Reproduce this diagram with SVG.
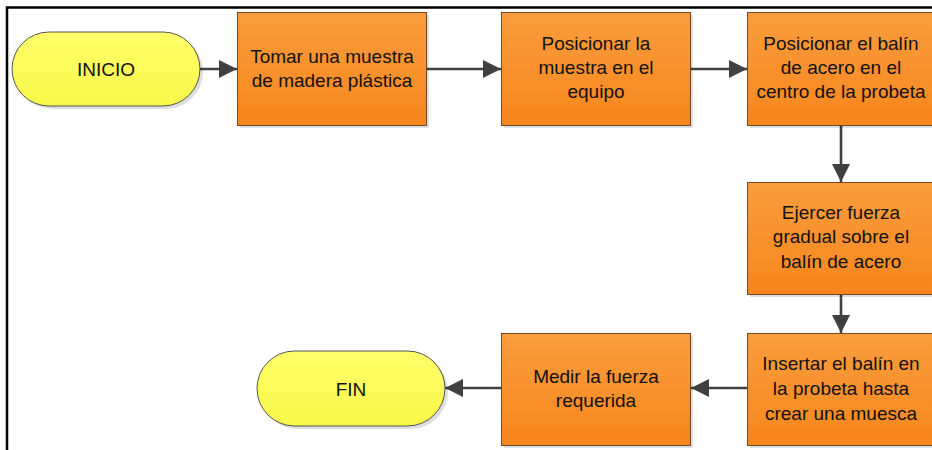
<svg xmlns="http://www.w3.org/2000/svg" width="932" height="450" viewBox="0 0 932 450">
<style>
.box{fill:url(#og);stroke:#6e4a26;stroke-width:1}
.term{fill:url(#yg);stroke:#555;stroke-width:1}
.sh{fill:#000;opacity:0.13}
.t{font-family:"Liberation Sans",Arial,sans-serif;font-size:19px;fill:#111;text-anchor:middle}
.c{stroke:#404040;stroke-width:2.6;fill:none;marker-end:url(#ah)}
.frame{stroke:#000;stroke-width:2.5;fill:none}
</style>
<defs>
<linearGradient id="og" x1="0" y1="0" x2="0" y2="1">
<stop offset="0" stop-color="#F99D3E"/>
<stop offset="1" stop-color="#F7861C"/>
</linearGradient>
<linearGradient id="yg" x1="0" y1="0" x2="0" y2="1">
<stop offset="0" stop-color="#FFFF6A"/>
<stop offset="1" stop-color="#F8F84A"/>
</linearGradient>
<marker id="ah" markerUnits="userSpaceOnUse" markerWidth="20" markerHeight="20" refX="18" refY="9" orient="auto">
<path d="M0,0 L18,9 L0,18 Z" fill="#404040"/>
</marker>
</defs>
<path class="frame" d="M7,450 V7.5 H932"/>
<g id="connectors">
<line class="c" x1="200" y1="69" x2="237" y2="69"/>
<line class="c" x1="427" y1="69" x2="501" y2="69"/>
<line class="c" x1="691" y1="69" x2="747" y2="69"/>
<line class="c" x1="841" y1="126" x2="841" y2="182"/>
<line class="c" x1="841" y1="295" x2="841" y2="333"/>
<line class="c" x1="747" y1="388" x2="691" y2="388"/>
<line class="c" x1="501" y1="388" x2="445" y2="388"/>
</g>
<g id="inicio">
<rect class="sh" x="15" y="35" width="188" height="74" rx="37"/>
<rect class="term" x="12" y="32" width="188" height="74" rx="37"/>
<text class="t" x="106" y="76">INICIO</text>
</g>
<g id="tomar">
<rect class="sh" x="240" y="15" width="189" height="113"/>
<rect class="box" x="237.5" y="12.5" width="189" height="113"/>
<text class="t" x="332" y="63">Tomar una muestra</text>
<text class="t" x="332" y="87">de madera plástica</text>
</g>
<g id="posicionar-muestra">
<rect class="sh" x="504" y="15" width="189" height="113"/>
<rect class="box" x="501.5" y="12.5" width="189" height="113"/>
<text class="t" x="596" y="50">Posicionar la</text>
<text class="t" x="596" y="74">muestra en el</text>
<text class="t" x="596" y="98">equipo</text>
</g>
<g id="posicionar-balin">
<rect class="sh" x="750" y="15" width="189" height="113"/>
<rect class="box" x="747.5" y="12.5" width="189" height="113"/>
<text class="t" x="841" y="50">Posicionar el balín</text>
<text class="t" x="841" y="74">de acero en el</text>
<text class="t" x="841" y="98">centro de la probeta</text>
</g>
<g id="ejercer">
<rect class="sh" x="750" y="185" width="189" height="112"/>
<rect class="box" x="747.5" y="182.5" width="189" height="112"/>
<text class="t" x="841" y="219">Ejercer fuerza</text>
<text class="t" x="841" y="243">gradual sobre el</text>
<text class="t" x="841" y="268">balín de acero</text>
</g>
<g id="insertar">
<rect class="sh" x="750" y="336" width="189" height="112"/>
<rect class="box" x="747.5" y="333.5" width="189" height="112"/>
<text class="t" x="841" y="370">Insertar el balín en</text>
<text class="t" x="841" y="395">la probeta hasta</text>
<text class="t" x="841" y="420">crear una muesca</text>
</g>
<g id="medir">
<rect class="sh" x="504" y="336" width="189" height="112"/>
<rect class="box" x="501.5" y="333.5" width="189" height="112"/>
<text class="t" x="596" y="383">Medir la fuerza</text>
<text class="t" x="596" y="407">requerida</text>
</g>
<g id="fin">
<rect class="sh" x="260" y="354" width="188" height="75" rx="37.5"/>
<rect class="term" x="257" y="351" width="188" height="75" rx="37.5"/>
<text class="t" x="351" y="396">FIN</text>
</g>
</svg>
